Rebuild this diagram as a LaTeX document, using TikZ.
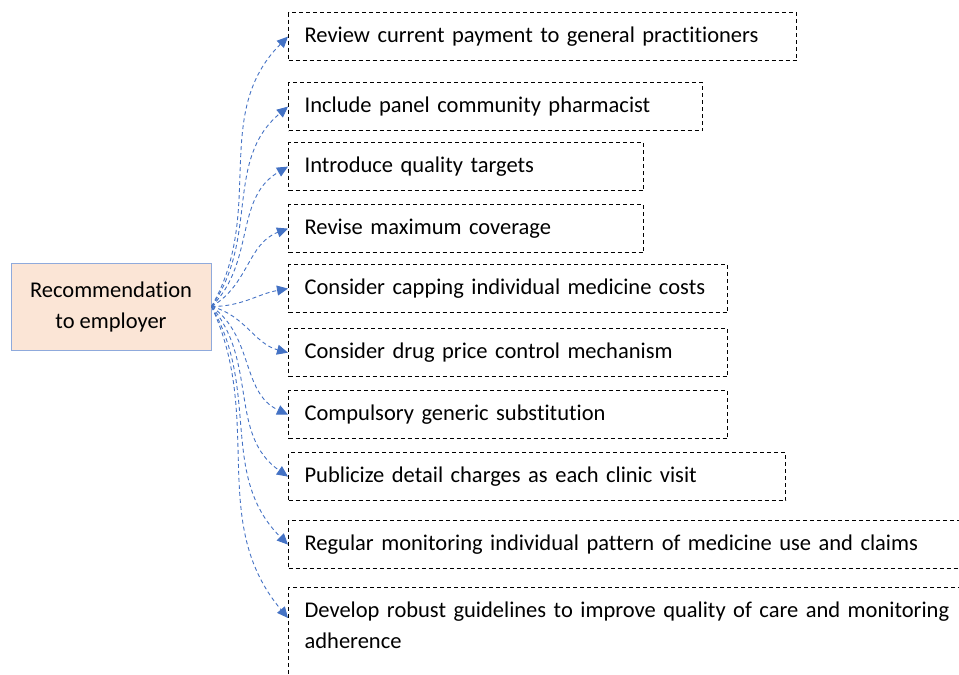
\documentclass[tikz,border=0pt]{standalone}
\usepackage{fontspec}
\setmainfont{Carlito}[Ligatures=NoCommon]
\usetikzlibrary{arrows.meta}
\definecolor{peach}{HTML}{FBE5D6}
\definecolor{recline}{HTML}{8FAADC}
\definecolor{linkblue}{HTML}{4472C4}

\begin{document}
\begin{tikzpicture}[x=1pt, y=1pt,
  every node/.style={font=\fontsize{22.5}{31}\selectfont},
  rec/.style={draw=recline, line width=1pt, fill=peach, minimum width=200pt, minimum height=87pt, align=center},
  item/.style={draw, dashed, dash pattern=on 4pt off 3pt, line width=1.2pt, anchor=north west, align=left, text width=#1, inner xsep=16pt, inner ysep=0pt, text height=29.5pt, text depth=18.5pt},
  link/.style={draw=linkblue, line width=0.9pt, dash pattern=on 4pt off 3pt, -{Triangle[length=11pt,width=10pt]}}]
\useasboundingbox (0,0) rectangle (959,-675);

% source
\node (rec)[rec] at (111,-306.5) {Recommendation\\to employer};

% recommendations
\node (b1)[item=476pt] at (288,-12) {Review current payment to general practitioners};
\node (b2)[item=382pt] at (288,-82) {Include panel community pharmacist};
\node (b3)[item=323pt] at (288,-142) {Introduce quality targets};
\node (b4)[item=323pt] at (288,-204) {Revise maximum coverage};
\node (b5)[item=407pt] at (288,-264) {Consider capping individual medicine costs};
\node (b6)[item=407pt] at (288,-328) {Consider drug price control mechanism};
\node (b7)[item=407pt] at (288,-390) {Compulsory generic substitution};
\node (b8)[item=465pt] at (288,-452) {Publicize detail charges as each clinic visit};
\node (b9)[item=700pt] at (288,-520) {Regular monitoring individual pattern of medicine use and claims};
\node (b10)[item=700pt, text depth=90pt] at (288,-587) {Develop robust guidelines to improve quality of care and monitoring\\adherence};

% links
\foreach \n/\o/\i in {1/60/225, 2/55/220, 3/45/210, 4/30/200, 5/0/190, 6/-15/165, 7/-35/155, 8/-50/145, 9/-60/135}
  \draw[link] (rec.east) to[out=\o, in=\i] (b\n.west);
\draw[link] (rec.east) to[out=-65, in=130] ([yshift=-31pt]b10.north west);
\end{tikzpicture}
\end{document}
